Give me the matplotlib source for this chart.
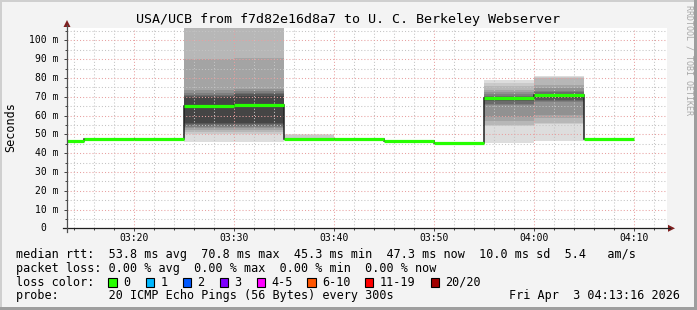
import matplotlib
matplotlib.use('Agg')
import matplotlib.pyplot as plt
import matplotlib.transforms as mtransforms
from matplotlib.patches import Rectangle, Polygon
from matplotlib.lines import Line2D

W, H = 697, 310
plt.rcParams['font.family'] = 'DejaVu Sans Mono'

# time axis: minutes after 03:00, one step every 300s
bin_edges = [13.27, 15, 20, 25, 30, 35, 40, 45, 50, 55, 60, 65, 70]
median_rtt = [46.6, 47.6, 47.6, 65.0, 65.6, 47.6, 47.6, 46.6, 45.3, 69.2, 70.8, 47.3]

# the 20 sorted ping times (ms) of the steps that show smoke
smoke_bins = [3, 4, 5, 9, 10]
smoke_pings = [
    [45.9, 50.4, 51.5, 52.5, 53.3, 54.0, 54.7, 55.3, 55.8, 64.8,
     65.2, 69.8, 70.4, 71.2, 72.2, 73.4, 90.3, 120.0, 130.0, 150.0],
    [45.9, 50.4, 51.5, 52.5, 53.3, 54.0, 54.7, 55.3, 55.8, 65.4,
     65.8, 70.6, 71.3, 72.0, 73.0, 74.3, 90.8, 120.0, 130.0, 150.0],
    [47.2, 47.3, 47.3, 47.4, 47.4, 47.5, 47.5, 47.5, 47.6, 47.6,
     47.6, 47.7, 47.7, 47.8, 47.8, 47.9, 48.0, 48.2, 49.8, 50.3],
    [45.3, 54.6, 55.0, 57.3, 59.4, 65.8, 66.3, 67.5, 68.6, 69.0,
     69.4, 69.7, 70.1, 70.6, 71.3, 72.3, 73.8, 75.5, 77.4, 78.9],
    [46.5, 55.5, 55.9, 58.5, 60.3, 67.2, 67.8, 68.3, 69.5, 70.7,
     70.9, 71.2, 71.7, 72.4, 73.3, 74.5, 76.2, 80.1, 80.6, 81.1],
]

x_ticks = [20, 30, 40, 50, 60, 70]
x_labels = ['03:20', '03:30', '03:40', '03:50', '04:00', '04:10']
y_ticks = [0, 10, 20, 30, 40, 50, 60, 70, 80, 90, 100]
y_labels = ['0  ', '10 m', '20 m', '30 m', '40 m', '50 m', '60 m', '70 m', '80 m', '90 m', '100 m']

loss_labels = ['0', '1', '2', '3', '4-5', '6-10', '11-19', '20/20']
loss_colors = ['#26ff00', '#00b8ff', '#0059ff', '#7e00ff', '#ff00ff', '#ff5500', '#ff0000', '#a10000']

title = 'USA/UCB from f7d82e16d8a7 to U. C. Berkeley Webserver'
stats_lines = [
    'median rtt:  53.8 ms avg  70.8 ms max  45.3 ms min  47.3 ms now  10.0 ms sd  5.4   am/s',
    'packet loss: 0.00 % avg  0.00 % max  0.00 % min  0.00 % now',
    'loss color:',
    'probe:       20 ICMP Echo Pings (56 Bytes) every 300s',
]
stamp = 'Fri Apr  3 04:13:16 2026'


def fx(x):
    return x / W


def fy(y):
    return 1 - y / H


fig = plt.figure(figsize=(W / 100, H / 100), dpi=100, facecolor='#f3f3f3')

# frame around the image
fig.add_artist(Rectangle((0, 0), fx(2), 1, color='#cfcfcf', lw=0))
fig.add_artist(Rectangle((0, fy(2)), 1, fx(2) * W / H, color='#cfcfcf', lw=0))
fig.add_artist(Rectangle((fx(W - 3), 0), fx(3), 1, color='#9e9e9e', lw=0))
fig.add_artist(Rectangle((0, 0), 1, 3 / H, color='#9e9e9e', lw=0))

x_left, x_right, y_top, y_bottom = 67, 667, 28, 228.3
ax = fig.add_axes([fx(x_left), fy(y_bottom), fx(x_right - x_left), (y_bottom - y_top) / H])
ax.set_facecolor('white')
ax.set_xlim(bin_edges[0], bin_edges[0] + 60)
ax.set_ylim(0, 106.6)

# smoke: pair i covers ping i .. ping 21-i, darker towards the middle
for b, p in zip(smoke_bins, smoke_pings):
    x0, x1 = bin_edges[b], bin_edges[b + 1]
    for i in range(10):
        g = int(190 / 10 * (10 - (i + 1))) + 50
        ax.fill_between([x0, x1], [p[i]] * 2, [p[19 - i]] * 2,
                        color='#%02x%02x%02x' % (g, g, g), lw=0, zorder=1)

ax.stairs(median_rtt, bin_edges, baseline=None, color='#202020', lw=1.1, zorder=3)
ax.hlines(median_rtt, bin_edges[:-1], bin_edges[1:], colors='#26ff00',
          lw=2.3, capstyle='butt', zorder=4)

# grid
ax.set_xticks(x_ticks)
ax.set_xticks(list(range(14, 74, 2)), minor=True)
ax.set_yticks(y_ticks)
ax.set_yticks(list(range(5, 110, 10)), minor=True)
ax.grid(which='major', color='#e8a0a0', ls=(0, (1, 2)), lw=0.75)
ax.grid(which='minor', color='#c4c4c4', ls=(0, (1, 2)), lw=0.75)
ax.set_axisbelow(False)
ax.tick_params(which='both', labelleft=False, labelbottom=False,
               direction='out', width=0.7, color='#404040')
ax.tick_params(which='major', length=2.5)
ax.tick_params(which='minor', length=1.5)
for s in ax.spines.values():
    s.set_visible(False)

# axis lines and arrows
arrow_col = '#7f1f1f'
fig.add_artist(Line2D([fx(63), fx(670)], [fy(y_bottom)] * 2, color='#202020', lw=0.9))
fig.add_artist(Line2D([fx(x_left)] * 2, [fy(232), fy(25)], color='#505050', lw=0.9))
fig.add_artist(Polygon([(fx(668), fy(y_bottom - 3.5)), (fx(668), fy(y_bottom + 3.5)),
                        (fx(675), fy(y_bottom))], closed=True, color=arrow_col, lw=0))
fig.add_artist(Polygon([(fx(x_left - 3.5), fy(27)), (fx(x_left + 3.5), fy(27)),
                        (fx(x_left), fy(20))], closed=True, color=arrow_col, lw=0))

# tick labels
ytr = mtransforms.blended_transform_factory(fig.transFigure, ax.transData)
for v, lab in zip(y_ticks, y_labels):
    fig.text(fx(58.5 - 5.9 * len(lab)), 0, lab, transform=ytr, fontsize=7,
             ha='left', va='center').set_y(v)
xtr = mtransforms.blended_transform_factory(ax.transData, fig.transFigure)
for v, lab in zip(x_ticks, x_labels):
    ax.text(v, fy(238), lab, transform=xtr, fontsize=7, ha='center', va='center')

# title and side texts
fig.text(fx(348), fy(23.5), title, fontsize=9.6, ha='center', va='baseline')
fig.text(fx(10.5), fy(127.5), 'Seconds', fontsize=8.5, rotation=90, ha='center', va='center')
fig.text(fx(688.5), fy(60), 'RRDTOOL / TOBI OETIKER', fontsize=6, rotation=270,
         color='#a8a8a8', ha='center', va='center')

# legend block
baselines = [258, 271.8, 285.7, 299.5]
for yb, line in zip(baselines, stats_lines):
    fig.text(fx(16), fy(yb), line, fontsize=8.5, ha='left', va='baseline')
fig.text(fx(680), fy(baselines[3]), stamp, fontsize=8.5, ha='right', va='baseline')

box_x = [108.3, 145.7, 182.7, 220, 256.7, 307.3, 365, 430.7]
for bx, lab, col in zip(box_x, loss_labels, loss_colors):
    fig.add_artist(Rectangle((fx(bx), fy(286.7)), fx(8.3), 8.3 / H,
                             facecolor=col, edgecolor='black', lw=0.8))
    fig.text(fx(bx + 14.5), fy(baselines[2]), lab, fontsize=8.5, ha='left', va='baseline')

plt.savefig('out.png', dpi=100, facecolor=fig.get_facecolor())
